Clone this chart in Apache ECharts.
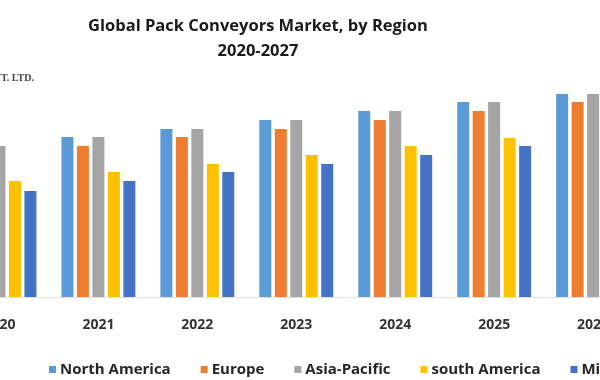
<!DOCTYPE html>
<html>
<head>
<meta charset="utf-8">
<script src="https://cdn.jsdelivr.net/npm/echarts@6/dist/echarts.min.js"></script>
<style>
html,body{margin:0;padding:0;background:#fff;overflow:hidden;width:600px;height:380px;}
#wrap{position:relative;width:600px;height:380px;overflow:hidden;}
#c{position:absolute;left:-50px;top:0;width:1000px;height:380px;}
</style>
</head>
<body>
<div id="wrap"><div id="c"></div></div>
<script>
const years = ['2020','2021','2022','2023','2024','2025','2026','2027'];
const northAmerica = [15.1, 16.0, 16.8, 17.7, 18.6, 19.5, 20.3, 21.2];
const europe       = [14.2, 15.1, 16.0, 16.8, 17.7, 18.6, 19.5, 20.3];
const asiaPacific  = [15.1, 16.0, 16.8, 17.7, 18.6, 19.5, 20.3, 21.2];
const southAmerica = [11.6, 12.5, 13.3, 14.2, 15.1, 15.9, 16.8, 17.7];
const mea          = [10.6, 11.6, 12.5, 13.3, 14.2, 15.1, 16.0, 16.8];
const seriesNames = ['North America','Europe','Asia-Pacific','south America','Middle East and Africa'];
const colors = ['#5B9BD5','#ED7D31','#A5A5A5','#FFC000','#4472C4'];
const seriesData = [northAmerica, europe, asiaPacific, southAmerica, mea];

const chart = echarts.init(document.getElementById('c'));
const font = '"Open Sans", "Noto Sans", sans-serif';
const X0 = 50; // chart offset relative to the visible window
chart.setOption({
  animation: false,
  backgroundColor: '#ffffff',
  color: colors,
  title: {
    text: 'Global Pack Conveyors Market, by Region\n2020-2027',
    left: 253 + X0,
    top: 9,
    textAlign: 'center',
    textStyle: { fontFamily: font, fontSize: 16.5, fontWeight: 'bold', color: '#1a1a1a', lineHeight: 25 }
  },
  graphic: [{
    type: 'text',
    x: 34 + X0,
    y: 73,
    style: { text: 'MAXIMIZE MARKET RESEARCH PVT. LTD.', font: 'bold 10px "Liberation Serif", serif', fill: '#444', textAlign: 'right' }
  }],
  legend: {
    left: 44 + X0,
    top: 357,
    width: 850,
    icon: 'rect',
    itemWidth: 7,
    itemHeight: 7,
    itemGap: 30,
    textStyle: { fontFamily: font, fontSize: 15, fontWeight: 'bold', color: '#262626', padding: [0, 0, 0, -1] },
    data: seriesNames
  },
  grid: { left: X0 - 50.5, width: 792, top: 47, bottom: 83, containLabel: false },
  xAxis: {
    type: 'category',
    data: years,
    axisLine: { show: true, lineStyle: { color: '#e0e0e0', width: 1 } },
    axisTick: { show: false },
    axisLabel: { fontFamily: font, fontSize: 14, fontWeight: 'bold', color: '#333', margin: 21 }
  },
  yAxis: {
    type: 'value',
    min: 0,
    max: 25,
    show: false,
    splitLine: { show: false }
  },
  series: seriesNames.map((n, i) => ({
    name: n,
    type: 'bar',
    data: seriesData[i],
    barWidth: 12,
    barGap: '29%',
    itemStyle: { color: colors[i] }
  }))
});
</script>
</body>
</html>
